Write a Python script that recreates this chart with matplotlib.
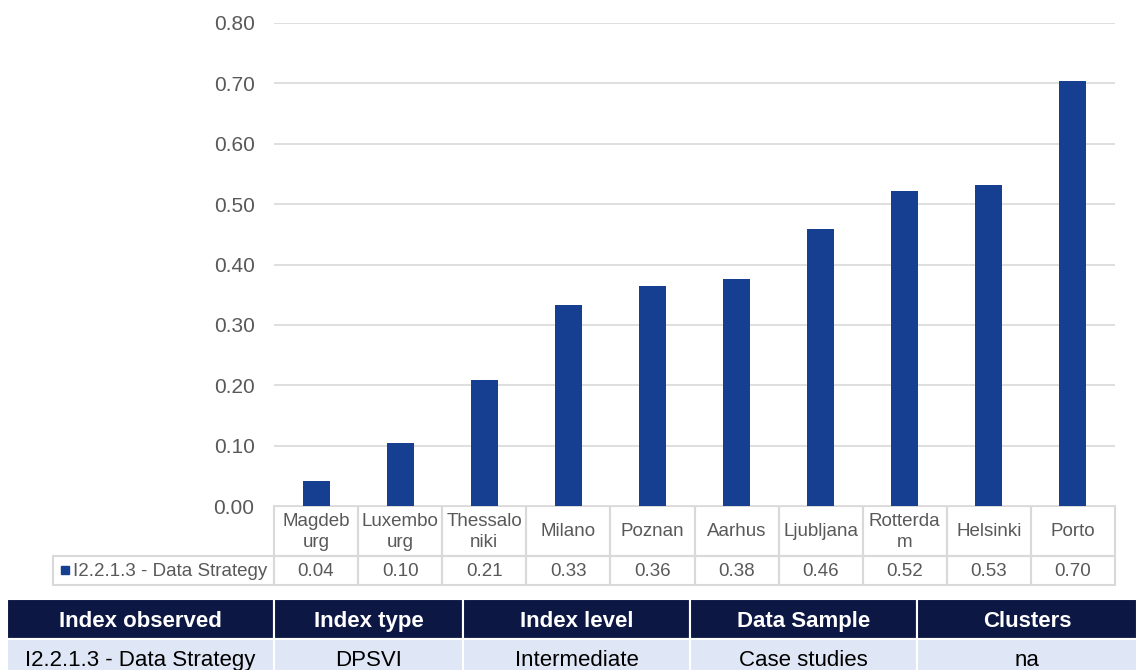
import matplotlib.pyplot as plt
from matplotlib.patches import Rectangle
from matplotlib.transforms import blended_transform_factory

plt.rcParams['font.family'] = ['Liberation Sans', 'DejaVu Sans']

# data
cities = ["Magdeb\nurg", "Luxembo\nurg", "Thessalo\nniki", "Milano", "Poznan",
          "Aarhus", "Ljubljana", "Rotterda\nm", "Helsinki", "Porto"]
values = [0.041, 0.104, 0.209, 0.333, 0.364, 0.376, 0.459, 0.521, 0.531, 0.704]
series_name = "I2.2.1.3 - Data Strategy"

info_headers = ["Index observed", "Index type", "Index level", "Data Sample", "Clusters"]
info_row = ["I2.2.1.3 - Data Strategy", "DPSVI", "Intermediate", "Case studies", "na"]

bar_color = "#173f91"
grid_color = "#d9d9d9"
text_gray = "#595959"
W, H = 1137, 670

fig = plt.figure(figsize=(W / 100, H / 100), dpi=100)

# main chart, placed in pixel terms
ax = fig.add_axes([274 / W, (H - 506) / H, 841 / W, 483 / H])
x = range(len(values))
ax.bar(x, values, width=0.32, color=bar_color, zorder=3)
ax.set_xlim(-0.5, len(values) - 0.5)
ax.set_ylim(0, 0.8)
ax.set_yticks([i / 10 for i in range(9)])
ax.set_yticklabels(["%.2f" % (i / 10) for i in range(9)])
ax.tick_params(axis='y', length=0, pad=14, labelsize=15, labelcolor=text_gray)
ax.set_xticks([])
ax.grid(axis='y', color=grid_color, linewidth=1.2, zorder=0)
for s in ax.spines.values():
    s.set_visible(False)

# overlay in pixel coordinates for the tables
pix = fig.add_axes([0, 0, 1, 1], zorder=-1)
pix.set_xlim(0, W)
pix.set_ylim(H, 0)
pix.axis('off')
pix.patch.set_alpha(0)

tr = blended_transform_factory(ax.transData, pix.transData)

# data table under the chart
row1_top, row1_bot, row2_bot = 506, 556, 585
for i, (c, v) in enumerate(zip(cities, values)):
    pix.add_patch(Rectangle((i - 0.5, row1_top), 1, row1_bot - row1_top, transform=tr,
                            fill=False, edgecolor=grid_color, lw=1.5, clip_on=False))
    pix.add_patch(Rectangle((i - 0.5, row1_bot), 1, row2_bot - row1_bot, transform=tr,
                            fill=False, edgecolor=grid_color, lw=1.5, clip_on=False))
    pix.text(i, (row1_top + row1_bot) / 2 + 1, c, transform=tr, ha='center', va='center',
             fontsize=13.5, color=text_gray, linespacing=1.35)
    pix.text(i, (row1_bot + row2_bot) / 2 + 1, "%.2f" % v, transform=tr, ha='center',
             va='center', fontsize=13.5, color=text_gray)

pix.add_patch(Rectangle((53, row1_bot), 274 - 53, row2_bot - row1_bot, fill=False,
                        edgecolor=grid_color, lw=1.5))
pix.add_patch(Rectangle((61, 566), 8, 8, color=bar_color))
pix.text(73, (row1_bot + row2_bot) / 2 + 1, series_name, ha='left', va='center',
         fontsize=13.5, color=text_gray)

# info table at the bottom
edges = [7, 274, 463, 690, 917, 1137]
for j in range(len(info_headers)):
    x0, x1 = edges[j], edges[j + 1]
    pix.add_patch(Rectangle((x0, 599), x1 - x0, 40, facecolor="#0c1744",
                            edgecolor='white', lw=1.5))
    pix.add_patch(Rectangle((x0, 639), x1 - x0, 32, facecolor="#dfe6f5",
                            edgecolor='white', lw=1.5))
    pix.text((x0 + x1) / 2, 619, info_headers[j], ha='center', va='center_baseline',
             fontsize=16, color='white', fontweight='bold')
    pix.text((x0 + x1) / 2, 658, info_row[j], ha='center', va='center_baseline',
             fontsize=16, color='black')

fig.savefig("out.png", dpi=100)
